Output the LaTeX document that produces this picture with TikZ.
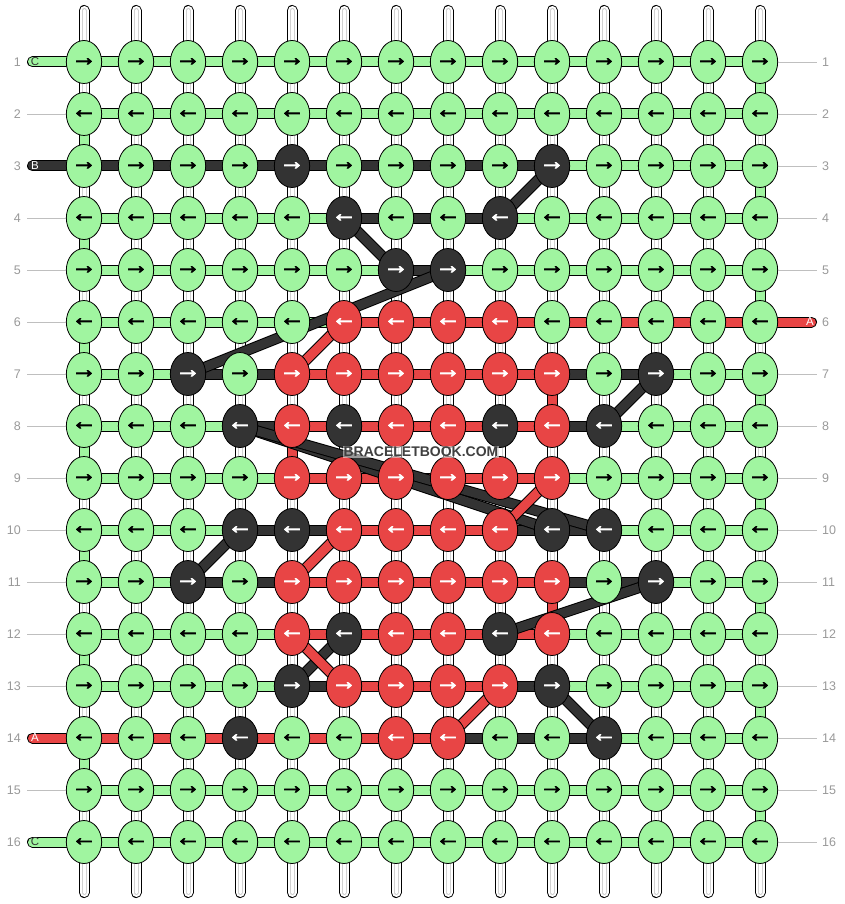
\documentclass[tikz,border=0pt]{standalone}
\usepackage{fontspec}
\usetikzlibrary{shapes.geometric}
\newfontfamily\arrowfont{Liberation Sans}[FakeBold=3]
\newfontfamily\labfont{Liberation Sans}
\definecolor{colg}{HTML}{A0F5A0}
\definecolor{colr}{HTML}{E84545}
\definecolor{colk}{HTML}{333333}
\colorlet{txtg}{black}
\colorlet{txtr}{white}
\colorlet{txtk}{white}
\pgfdeclarelayer{strings}
\pgfdeclarelayer{threads}
\pgfdeclarelayer{diag}
\pgfsetlayers{strings,threads,diag,main}
\begin{document}
\begin{tikzpicture}[x=1pt,y=-1pt,
  knot/.style={ellipse, draw=black, line width=0.8pt, minimum width=35pt, minimum height=43pt, inner sep=0pt,
    font=\arrowfont\fontsize{25}{25}\selectfont},
  kn/.style={knot, fill=col#1, text=txt#1},
  th/.style={draw=black, line width=1pt, double=col#1, double distance=9pt},
  cap/.style={th=#1, line cap=round},
  num/.style={font=\labfont\fontsize{12.5}{13}\selectfont, text=black!40, inner sep=0pt},
  gline/.style={draw=black!25, line width=0.8pt},
  letter/.style={font=\labfont\fontsize{11.5}{11.5}\selectfont, inner sep=0pt},
]
\useasboundingbox (0,0) rectangle (844,904);

% knots
\foreach \row [count=\r] in {
  {g,g,g,g,g,g,g,g,g,g,g,g,g,g},
  {g,g,g,g,g,g,g,g,g,g,g,g,g,g},
  {g,g,g,g,k,g,g,g,g,k,g,g,g,g},
  {g,g,g,g,g,k,g,g,k,g,g,g,g,g},
  {g,g,g,g,g,g,k,k,g,g,g,g,g,g},
  {g,g,g,g,g,r,r,r,r,g,g,g,g,g},
  {g,g,k,g,r,r,r,r,r,r,g,k,g,g},
  {g,g,g,k,r,k,r,r,k,r,k,g,g,g},
  {g,g,g,g,r,r,r,r,r,r,g,g,g,g},
  {g,g,g,k,k,r,r,r,r,k,k,g,g,g},
  {g,g,k,g,r,r,r,r,r,r,g,k,g,g},
  {g,g,g,g,r,k,r,r,k,r,g,g,g,g},
  {g,g,g,g,k,r,r,r,r,k,g,g,g,g},
  {g,g,g,k,g,g,r,r,g,g,k,g,g,g},
  {g,g,g,g,g,g,g,g,g,g,g,g,g,g},
  {g,g,g,g,g,g,g,g,g,g,g,g,g,g}} {
  \ifodd\r \def\arr{→}\else \def\arr{←}\fi
  \foreach \kc [count=\c] in \row {
    \node[kn=\kc] (k\r-\c) at ({84+52*(\c-1)},{62+52*(\r-1)}) {\arr};
  }
}

% vertical white strings
\begin{pgfonlayer}{strings}
\foreach \c in {1,...,14} {
  \coordinate (st\c) at ({84+52*(\c-1)},10.5);
  \coordinate (sb\c) at ({84+52*(\c-1)},892.5);
  \draw[line cap=round, line width=11pt, black] (st\c) -- (sb\c);
  \draw[line cap=round, line width=9pt, white] (st\c) -- (sb\c);
  \draw[line cap=round, line width=5pt, black!18] (st\c) -- (sb\c);
  \draw[line cap=round, line width=3pt, white] (st\c) -- (sb\c);
}
\end{pgfonlayer}

% horizontal threads and vertical colored segments
\begin{pgfonlayer}{threads}
\foreach \segs [count=\r] in {
  {g,g,g,g,g,g,g,g,g,g,g,g,g},
  {g,g,g,g,g,g,g,g,g,g,g,g,g},
  {k,k,k,k,k,k,k,k,k,g,g,g,g},
  {g,g,g,g,g,k,k,k,g,g,g,g,g},
  {g,g,g,g,g,g,k,g,g,g,g,g,g},
  {g,g,g,g,g,r,r,r,r,r,r,r,r},
  {g,g,k,k,r,r,r,r,r,k,k,g,g},
  {g,g,g,k,r,r,r,r,r,k,g,g,g},
  {g,g,g,g,r,r,r,r,r,g,g,g,g},
  {g,g,g,k,k,r,r,r,k,k,g,g,g},
  {g,g,k,k,r,r,r,r,r,k,k,g,g},
  {g,g,g,g,r,r,r,r,r,g,g,g,g},
  {g,g,g,g,k,r,r,r,k,g,g,g,g},
  {r,r,r,r,r,r,r,k,k,k,g,g,g},
  {g,g,g,g,g,g,g,g,g,g,g,g,g},
  {g,g,g,g,g,g,g,g,g,g,g,g,g}} {
  \foreach \sc [count=\c] in \segs {
    \pgfmathtruncatemacro\cn{\c+1}
    \draw[th=\sc] (k\r-\c.center) -- (k\r-\cn.center);
  }
}
% green turns at the edges
\foreach \a/\b in {1/2,3/4,5/6,7/8,9/10,11/12,13/14,15/16}
  \draw[th=g] (k\a-14.center) -- (k\b-14.center);
\foreach \a/\b in {2/3,4/5,6/7,8/9,10/11,12/13,14/15}
  \draw[th=g] (k\a-1.center) -- (k\b-1.center);
% red vertical segments
\draw[th=r] (k7-10.center) -- (k8-10.center);
\draw[th=r] (k11-10.center) -- (k12-10.center);
\draw[th=r] (k8-5.center) -- (k9-5.center);

% thread ends
\coordinate (cl1) at (32.5,62);
\coordinate (cl3) at (32.5,166);
\coordinate (cl14) at (32.5,738);
\coordinate (cl16) at (32.5,842);
\coordinate (cr6) at (811.5,322);
\draw[cap=g] (cl1) -- (k1-1.center);
\draw[cap=k] (cl3) -- (k3-1.center);
\draw[cap=r] (cl14) -- (k14-1.center);
\draw[cap=g] (cl16) -- (k16-1.center);
\draw[cap=r] (k6-14.center) -- (cr6);
\end{pgfonlayer}

% diagonal threads
\begin{pgfonlayer}{diag}
\foreach \ra/\ca/\rb/\cb in {3/10/4/9, 4/6/5/7, 5/8/7/3, 7/12/8/11, 8/4/10/10, 8/4/10/11,
    10/4/11/3, 11/12/12/9, 12/6/13/5, 13/10/14/11}
  \draw[th=k] (k\ra-\ca.center) -- (k\rb-\cb.center);
\foreach \ra/\ca/\rb/\cb in {6/6/7/5, 9/10/10/9, 10/6/11/5, 12/5/13/6, 13/9/14/8}
  \draw[th=r] (k\ra-\ca.center) -- (k\rb-\cb.center);
\end{pgfonlayer}

% thread letters
\node[letter, text=colk] (lc1) at (35,62) {C};
\node[letter, text=white] (lb3) at (35,166) {B};
\node[letter, text=white] (la14) at (35,738) {A};
\node[letter, text=colk] (lc16) at (35,842) {C};
\node[letter, text=white] (la6) at (810,322) {A};

% row numbers and guide lines
\foreach \r in {1,...,16} {
  \node[num, anchor=east] (nl\r) at (21,{62+52*(\r-1)}) {\r};
  \node[num, anchor=west] (nr\r) at (822,{62+52*(\r-1)}) {\r};
  \coordinate (gr\r) at (817,{62+52*(\r-1)});
}
\foreach \r in {2,4,5,6,7,8,9,10,11,12,13,15} {
  \coordinate (gl\r) at (27,{62+52*(\r-1)});
  \draw[gline] (gl\r) -- (k\r-1.west);
}
\foreach \r in {1,2,3,4,5,7,8,9,10,11,12,13,14,15,16}
  \draw[gline] (k\r-14.east) -- (gr\r);

% watermark
\node[font=\labfont\bfseries\fontsize{14}{14}\selectfont, text=black!75, fill=white, fill opacity=0.5,
  text opacity=1, inner sep=1pt] (wm) at (421,452) {BRACELETBOOK.COM};
\end{tikzpicture}
\end{document}
